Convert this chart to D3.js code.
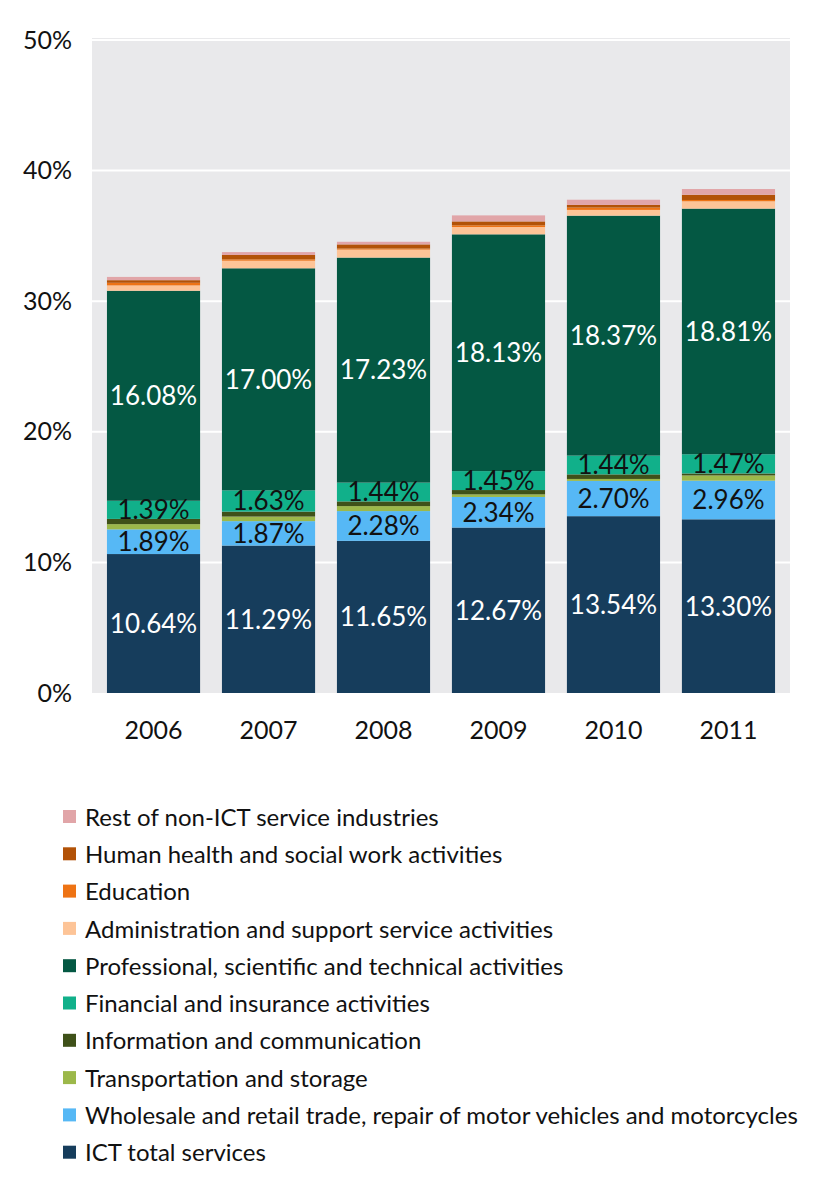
<!DOCTYPE html>
<html><head><meta charset="utf-8">
<script src="https://cdn.jsdelivr.net/npm/d3@7"></script>
<style>body{margin:0;background:#fff;} svg{display:block;}</style>
</head><body>
<svg id="chart" width="840" height="1200"></svg>
<script>
const years = ["2006","2007","2008","2009","2010","2011"];
const seriesNames = [
  "ICT total services",
  "Wholesale and retail trade, repair of motor vehicles and motorcycles",
  "Transportation and storage",
  "Information and communication",
  "Financial and insurance activities",
  "Professional, scientific and technical activities",
  "Administration and support service activities",
  "Education",
  "Human health and social work activities",
  "Rest of non-ICT service industries"
];
const ictTotal      = [10.64, 11.29, 11.65, 12.67, 13.54, 13.30];
const wholesale     = [1.89, 1.87, 2.28, 2.34, 2.70, 2.96];
const transport     = [0.40, 0.35, 0.38, 0.20, 0.15, 0.40];
const information   = [0.40, 0.38, 0.36, 0.33, 0.35, 0.15];
const financial     = [1.39, 1.63, 1.44, 1.45, 1.44, 1.47];
const professional  = [16.08, 17.00, 17.23, 18.13, 18.37, 18.81];
const administration= [0.41, 0.58, 0.61, 0.56, 0.44, 0.56];
const education     = [0.20, 0.10, 0.08, 0.13, 0.18, 0.10];
const health        = [0.20, 0.34, 0.32, 0.30, 0.20, 0.40];
const rest          = [0.25, 0.22, 0.20, 0.46, 0.40, 0.44];
const yTicks = [0, 10, 20, 30, 40, 50];
const labelledSeries = [0, 1, 4, 5];

const colors = ["#163d5c","#56b8f5","#9cb84a","#3f5119","#11b08a","#045843","#fdc497","#ee7314","#b25207","#e1a5a8"];
const labelColors = {0:"#ffffff",1:"#111111",4:"#111111",5:"#ffffff"};
const seriesValues = [ictTotal, wholesale, transport, information, financial, professional, administration, education, health, rest];

const rows = years.map((yr,i)=>{ const r={year:yr}; seriesValues.forEach((s,k)=>r["s"+k]=s[i]); return r; });
const keys = seriesValues.map((_,k)=>"s"+k);
const stacked = d3.stack().keys(keys)(rows);

const svg = d3.select("#chart");
const font = "Lato, 'Open Sans', sans-serif";
const pLeft = 92, pRight = 790, pTop = 38, pBottom = 693;

const x = d3.scaleBand().domain(years).range([pLeft, pRight]).paddingInner(0.19).paddingOuter(0.13);
const y = d3.scaleLinear().domain([0, 50]).range([pBottom, 40]);

svg.append("rect").attr("x", pLeft).attr("y", pTop).attr("width", pRight-pLeft).attr("height", pBottom-pTop).attr("fill", "#e9e9eb");

// grid
svg.append("g").selectAll("line").data(yTicks.filter(t=>t>0)).join("line")
  .attr("x1", pLeft).attr("x2", pRight).attr("y1", d=>y(d)).attr("y2", d=>y(d))
  .attr("stroke", "#ffffff").attr("stroke-width", 2);

// y axis
const yAxis = svg.append("g").attr("transform", `translate(${pLeft},0)`)
  .call(d3.axisLeft(y).tickValues(yTicks).tickFormat(d=>d+"%").tickSize(0).tickPadding(20));
yAxis.select(".domain").remove();
yAxis.selectAll("text").attr("font-family", font).attr("font-size", 25).attr("fill", "#111");

// x axis
const xAxis = svg.append("g").attr("transform", `translate(0,${pBottom})`)
  .call(d3.axisBottom(x).tickSize(0).tickPadding(28));
xAxis.select(".domain").remove();
xAxis.selectAll("text").attr("font-family", font).attr("font-size", 25).attr("fill", "#111");

// bars
const layers = svg.append("g").selectAll("g").data(stacked).join("g").attr("fill", (d,i)=>colors[i]);
layers.selectAll("rect").data(d=>d).join("rect")
  .attr("x", d=>x(d.data.year)).attr("width", x.bandwidth())
  .attr("y", d=>y(d[1])).attr("height", d=>y(d[0])-y(d[1]));

// labels
labelledSeries.forEach(k=>{
  svg.append("g").selectAll("text").data(stacked[k]).join("text")
    .attr("x", d=>x(d.data.year)+x.bandwidth()/2)
    .attr("y", d=>(y(d[0])+y(d[1]))/2)
    .attr("dy", "0.36em")
    .attr("text-anchor", "middle")
    .attr("font-family", font).attr("font-size", 26)
    .attr("fill", labelColors[k])
    .text(d=>(d[1]-d[0]).toFixed(2)+"%");
});

// legend (reverse order)
const legendOrder = seriesNames.map((n,i)=>({n,i})).reverse();
const lg = svg.append("g").selectAll("g").data(legendOrder).join("g")
  .attr("transform", (d,j)=>`translate(63,${817 + j*37.3})`);
lg.append("rect").attr("x", 0).attr("y", -7).attr("width", 13).attr("height", 13).attr("fill", d=>colors[d.i]);
lg.append("text").attr("x", 22).attr("y", 0).attr("dy", "0.36em")
  .attr("font-family", font).attr("font-size", 24).attr("fill", "#111").text(d=>d.n);
</script>
</body></html>
